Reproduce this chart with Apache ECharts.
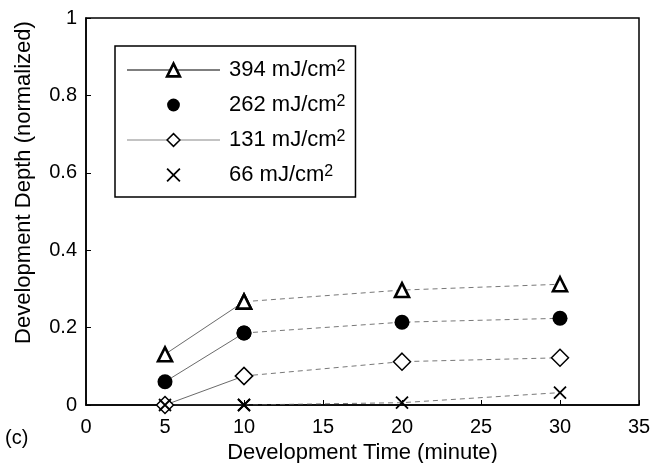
<!DOCTYPE html>
<html><head><meta charset="utf-8">
<script src="https://cdn.jsdelivr.net/npm/echarts@6/dist/echarts.min.js"></script>
<style>html,body{margin:0;padding:0;background:#fff}#c{width:665px;height:463px}</style>
</head><body><div id="c"></div>
<script>
const times = [5, 10, 20, 30];
const seriesNames = ['394 mJ/cm2', '262 mJ/cm2', '131 mJ/cm2', '66 mJ/cm2'];
const d394 = [0.131, 0.267, 0.297, 0.312];
const d262 = [0.060, 0.186, 0.214, 0.224];
const d131 = [0.000, 0.075, 0.112, 0.122];
const d66  = [0.000, 0.000, 0.006, 0.032];
const xTicks = [0, 5, 10, 15, 20, 25, 30, 35];
const yTicks = [0, 0.2, 0.4, 0.6, 0.8, 1];

const FONT = 'Liberation Sans, Arial, sans-serif';
const pairs = arr => times.map((t, i) => [t, arr[i]]);
const styles = [
  {symbol: 'triangle', size: 14, item: {color: '#fff', borderColor: '#000', borderWidth: 2.6}, legendLine: {color: '#000', width: 1.2}},
  {symbol: 'circle', size: 15, item: {color: '#000', borderColor: '#000', borderWidth: 0}, legendLine: {opacity: 0}},
  {symbol: 'diamond', size: 17, item: {color: '#fff', borderColor: '#000', borderWidth: 1.5}, legendLine: {color: '#888', width: 1.2}},
  {symbol: 'path://M0,0L10,10M10,0L0,10', size: 12, item: {color: 'none', borderColor: '#000', borderWidth: 1.8}, legendLine: {opacity: 0}}
];
const datasets = [d394, d262, d131, d66];
const series = [];
datasets.forEach((arr, k) => {
  const p = pairs(arr);
  const st = styles[k];
  series.push({
    name: seriesNames[k], type: 'line', data: p.slice(0, 2),
    symbol: st.symbol, symbolSize: st.size, itemStyle: st.item,
    lineStyle: {color: '#444', width: 0.8, type: 'solid'},
    z: 3, animation: false
  });
  series.push({
    name: seriesNames[k] + ' ', type: 'line', data: p.slice(1),
    symbol: st.symbol, symbolSize: st.size, itemStyle: st.item,
    lineStyle: {color: '#555', width: 0.8, type: [5, 4]},
    z: 3, animation: false
  });
});

const chart = echarts.init(document.getElementById('c'));
chart.setOption({
  backgroundColor: '#fff',
  animation: false,
  textStyle: {fontFamily: FONT},
  grid: {left: 86, right: 26, top: 18, bottom: 58, outerBoundsMode: 'none', containLabel: false,
    show: true, borderColor: '#000', borderWidth: 1.5, backgroundColor: 'transparent'},
  legend: {
    data: seriesNames.map((n, k) => ({name: n, lineStyle: styles[k].legendLine, itemStyle: styles[k].item})),
    orient: 'vertical', left: 115, top: 46,
    padding: [13, 10, 11, 11],
    itemGap: 13, itemWidth: 93, itemHeight: 16,
    borderColor: '#000', borderWidth: 1.5, backgroundColor: '#fff',
    selectedMode: false,
    formatter: n => '{a|' + n.slice(0, -1) + '}{s|2}',
    textStyle: {fontFamily: FONT, rich: {
      a: {fontSize: 22, fontFamily: FONT, color: '#000', padding: [0, 0, 0, 4], lineHeight: 22},
      s: {fontSize: 16, fontFamily: FONT, color: '#000', verticalAlign: 'top', lineHeight: 16, padding: [0, 0, 6, 0]}
    }}
  },
  xAxis: {
    type: 'value', min: 0, max: 35, interval: 5,
    name: 'Development Time (minute)', nameLocation: 'middle', nameGap: 33,
    nameTextStyle: {fontSize: 22, fontFamily: FONT, color: '#000'},
    axisLine: {lineStyle: {color: '#000', width: 1.5}},
    axisTick: {inside: true, length: 5, lineStyle: {color: '#000'}},
    axisLabel: {fontSize: 20, fontFamily: FONT, color: '#000', margin: 12,
      customValues: xTicks},
    splitLine: {show: false}
  },
  yAxis: {
    type: 'value', min: 0, max: 1, interval: 0.2,
    name: 'Development Depth (normalized)', nameLocation: 'middle', nameGap: 51,
    nameTextStyle: {fontSize: 22, fontFamily: FONT, color: '#000', padding: [0, 0, 0, 58]},
    axisLine: {lineStyle: {color: '#000', width: 1.5}},
    axisTick: {inside: true, length: 5, lineStyle: {color: '#000'}},
    axisLabel: {fontSize: 20, fontFamily: FONT, color: '#000', margin: 9,
      formatter: v => { const t = yTicks.find(y => Math.abs(y - v) < 1e-9); return t === undefined ? '' : String(t); }},
    splitLine: {show: false}
  },
  graphic: [{type: 'text', left: 5, top: 428, style: {text: '(c)', font: '20px ' + FONT, fill: '#000'}}],
  series: series
});
</script></body></html>
